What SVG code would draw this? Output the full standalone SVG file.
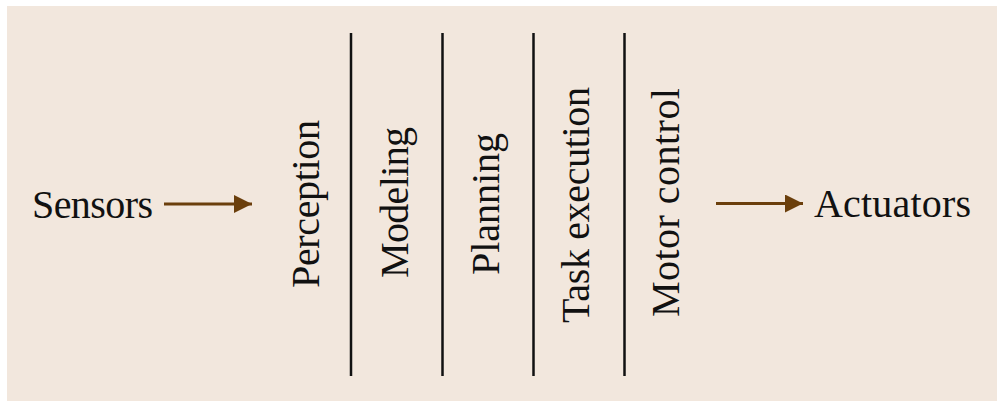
<svg xmlns="http://www.w3.org/2000/svg" width="1002" height="407" viewBox="0 0 1002 407">
<style>
.lbl{font-family:"Liberation Serif","Times New Roman",serif;font-size:40px;fill:#111}
.sep{stroke:#111;stroke-width:2.5}
.conn{stroke:#6b3f0c;stroke-width:3;fill:none}
</style>
<defs>
<marker id="ah" markerUnits="userSpaceOnUse" markerWidth="20" markerHeight="20" refX="18" refY="9" orient="auto">
<path d="M0,0 L18,9 L0,18 Z" fill="#6b3f0c"/>
</marker>
</defs>
<rect x="7" y="6" width="990" height="395" fill="#f2e7dd"/>
<g id="sensors"><text class="lbl" x="32" y="218" textLength="121">Sensors</text></g>
<g id="actuators"><text class="lbl" x="814" y="217" textLength="157">Actuators</text></g>
<g id="separators">
<line class="sep" x1="351" y1="33" x2="351" y2="376"/>
<line class="sep" x1="442.5" y1="33" x2="442.5" y2="376"/>
<line class="sep" x1="533.5" y1="33" x2="533.5" y2="376"/>
<line class="sep" x1="624.5" y1="33" x2="624.5" y2="376"/>
</g>
<g id="perception"><text class="lbl" text-anchor="middle" textLength="168" transform="translate(319,204) rotate(-90)">Perception</text></g>
<g id="modeling"><text class="lbl" text-anchor="middle" textLength="151" transform="translate(408,202.5) rotate(-90)">Modeling</text></g>
<g id="planning"><text class="lbl" text-anchor="middle" textLength="142" transform="translate(499,204) rotate(-90)">Planning</text></g>
<g id="task-execution"><text class="lbl" text-anchor="middle" textLength="236" transform="translate(589,205) rotate(-90)">Task execution</text></g>
<g id="motor-control"><text class="lbl" text-anchor="middle" textLength="229" transform="translate(679,202.5) rotate(-90)">Motor control</text></g>
<g id="connectors">
<line class="conn" x1="164" y1="204" x2="252" y2="204" marker-end="url(#ah)"/>
<line class="conn" x1="716" y1="203.5" x2="803" y2="203.5" marker-end="url(#ah)"/>
</g>
</svg>
